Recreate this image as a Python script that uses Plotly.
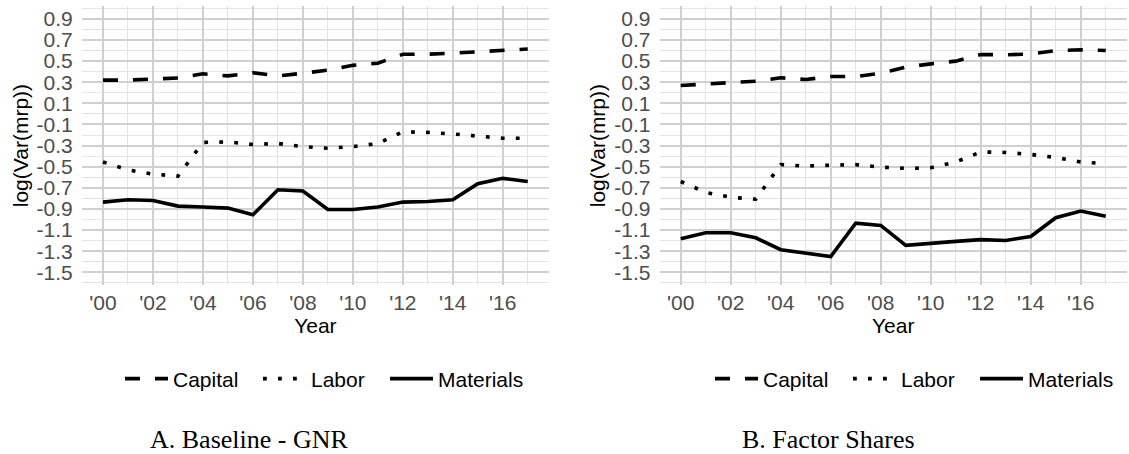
import plotly.graph_objects as go

# ---------------- data ----------------
years = list(range(2000, 2018))
x_tick_vals = [2000, 2002, 2004, 2006, 2008, 2010, 2012, 2014, 2016]
x_tick_text = ["'00", "'02", "'04", "'06", "'08", "'10", "'12", "'14", "'16"]
y_tick_vals = [0.9, 0.7, 0.5, 0.3, 0.1, -0.1, -0.3, -0.5, -0.7, -0.9, -1.1, -1.3, -1.5]
y_tick_text = ["0.9", "0.7", "0.5", "0.3", "0.1", "-0.1", "-0.3", "-0.5", "-0.7",
               "-0.9", "-1.1", "-1.3", "-1.5"]

# Panel A: Baseline - GNR
a_capital = [0.32, 0.32, 0.33, 0.34, 0.38, 0.36, 0.39, 0.36, 0.385, 0.415, 0.46, 0.48,
             0.565, 0.565, 0.575, 0.59, 0.60, 0.615]
a_labor = [-0.455, -0.53, -0.57, -0.59, -0.27, -0.265, -0.29, -0.28, -0.31, -0.325,
           -0.31, -0.28, -0.17, -0.175, -0.19, -0.21, -0.23, -0.23]
a_materials = [-0.835, -0.813, -0.82, -0.873, -0.882, -0.892, -0.955, -0.718, -0.73,
               -0.905, -0.905, -0.882, -0.835, -0.83, -0.813, -0.66, -0.61, -0.64]

# Panel B: Factor Shares
b_capital = [0.269, 0.285, 0.297, 0.31, 0.342, 0.326, 0.354, 0.354, 0.386, 0.443, 0.474,
             0.50, 0.562, 0.56, 0.568, 0.60, 0.607, 0.60]
b_labor = [-0.64, -0.743, -0.79, -0.807, -0.48, -0.494, -0.485, -0.48, -0.504, -0.516,
           -0.51, -0.456, -0.36, -0.365, -0.384, -0.412, -0.456, -0.472]
b_materials = [-1.182, -1.125, -1.125, -1.173, -1.286, -1.315, -1.35, -1.034, -1.056,
               -1.245, -1.23, -1.207, -1.19, -1.198, -1.16, -0.983, -0.92, -0.97]

series_names = ["Capital", "Labor", "Materials"]
panel_titles = ["A. Baseline - GNR", "B. Factor Shares"]

# ---------------- styling ----------------
W, H = 1129, 454
LW = 3.6
dashes = {"Capital": "15px,15px", "Labor": "3.8px,11.2px", "Materials": "solid"}
legend_widths = {"Capital": 80, "Labor": 69, "Materials": 90}
TICK_FONT = dict(family="Liberation Sans, Arial, sans-serif", size=21, color="#4D4D4D")
TITLE_FONT = dict(family="Liberation Sans, Arial, sans-serif", size=21, color="#000000")

fig = go.Figure()

panels = [
    ("x", "y", "legend", [a_capital, a_labor, a_materials]),
    ("x2", "y2", "legend2", [b_capital, b_labor, b_materials]),
]
for xa, ya, leg, vals in panels:
    for name, v in zip(series_names, vals):
        fig.add_trace(go.Scatter(
            x=years, y=v, name=name, mode="lines",
            line=dict(color="black", width=LW, dash=dashes[name]),
            xaxis=xa, yaxis=ya, legend=leg,
            legendwidth=legend_widths[name],
            hoverinfo="skip",
        ))

def px_x(p):
    return p / W

def px_y(p):
    return (H - p) / H

x_domains = [[px_x(81.75), px_x(549.0)], [px_x(659.5), px_x(1127.0)]]
y_domain = [px_y(285.0), px_y(6.2)]

common_x = dict(
    range=[1999.15, 2017.85], tickmode="array", tickvals=x_tick_vals, ticktext=x_tick_text,
    showgrid=True, gridcolor="#D0D0D0", gridwidth=1.5, zeroline=False, showline=False,
    ticks="", tickfont=TICK_FONT, ticklabelstandoff=3,
    minor=dict(tickvals=[y for y in years if y % 2 == 1], showgrid=True,
               gridcolor="#E4E4E4", gridwidth=1.0),
    title=dict(text="Year", font=TITLE_FONT, standoff=2),
    fixedrange=True,
)
common_y = dict(
    range=[-1.62, 1.02], tickmode="array", tickvals=y_tick_vals, ticktext=y_tick_text,
    showgrid=True, gridcolor="#D0D0D0", gridwidth=1.5, zeroline=False, showline=False,
    ticks="", tickfont=TICK_FONT, ticklabelstandoff=8,
    minor=dict(tickvals=[round(-1.6 + 0.2 * i, 2) for i in range(14)], showgrid=True,
               gridcolor="#E4E4E4", gridwidth=1.0),
    title=dict(text="log(Var(mrp))", font=TITLE_FONT, standoff=2),
    fixedrange=True,
)

legend_common = dict(orientation="h", xanchor="left", y=px_y(379), yanchor="middle",
                     font=dict(size=21, color="black"), itemwidth=43,
                     bgcolor="rgba(0,0,0,0)", itemclick=False, itemdoubleclick=False)

fig.update_layout(
    width=W, height=H,
    margin=dict(l=0, r=0, t=0, b=0, autoexpand=False),
    paper_bgcolor="white", plot_bgcolor="white",
    font=dict(family="Liberation Sans, Arial, sans-serif", color="black"),
    xaxis=dict(domain=x_domains[0], anchor="y", **common_x),
    yaxis=dict(domain=y_domain, anchor="x", **common_y),
    xaxis2=dict(domain=x_domains[1], anchor="y2", **common_x),
    yaxis2=dict(domain=y_domain, anchor="x2", **common_y),
    legend=dict(x=px_x(120), **legend_common),
    legend2=dict(x=px_x(120 + 590), **legend_common),
    showlegend=True,
)

caption_centers = [249, 828]
for title, cx in zip(panel_titles, caption_centers):
    fig.add_annotation(
        text=title, x=px_x(cx), y=px_y(439), xref="paper", yref="paper",
        xanchor="center", yanchor="middle", showarrow=False,
        font=dict(family="Liberation Serif, Times New Roman, serif", size=26, color="black"),
    )

fig.write_html("out.html", config={"displayModeBar": False},
               post_script="document.body.style.margin='0px';document.body.style.padding='0px';")
